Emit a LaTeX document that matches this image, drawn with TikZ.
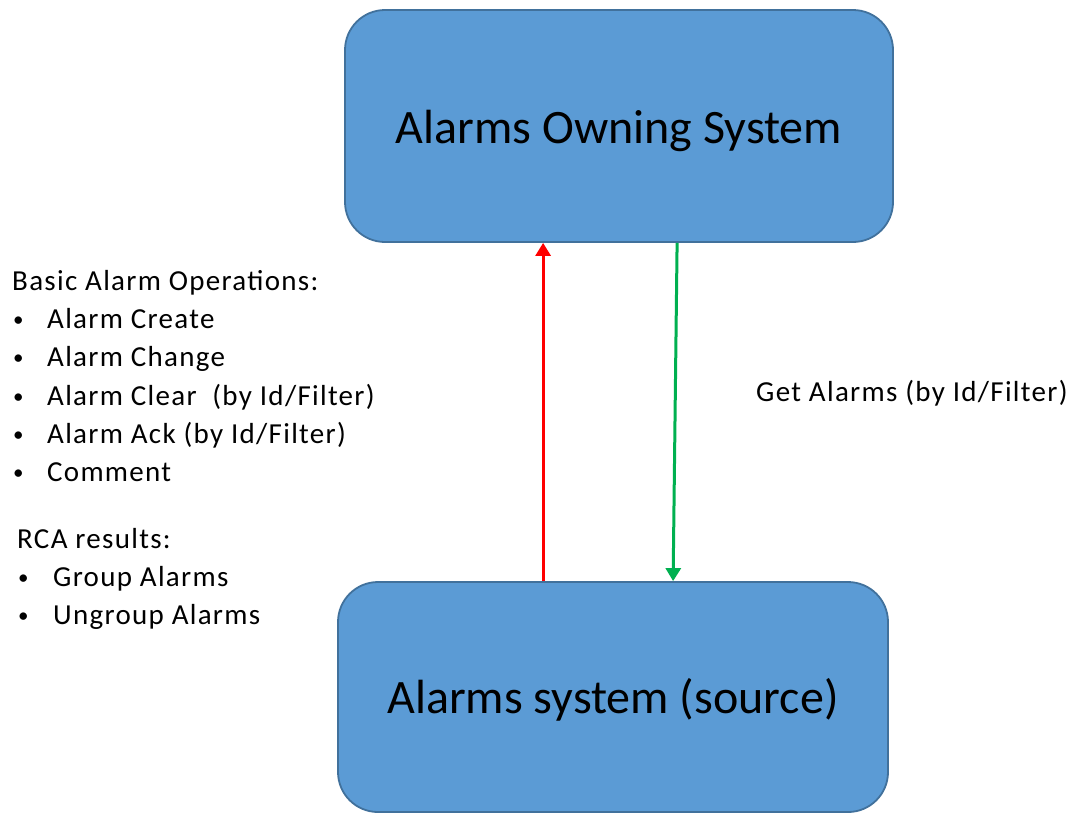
\documentclass[tikz,border=0pt]{standalone}
\usepackage{fontspec}
\setmainfont{Carlito}
\newfontfamily\lblfont[LetterSpace=4.5]{Carlito}
\usetikzlibrary{arrows.meta,calc}
\definecolor{boxfill}{HTML}{5B9BD5}
\definecolor{boxline}{HTML}{41719C}
\definecolor{arrred}{HTML}{FF0000}
\definecolor{arrgreen}{HTML}{00B050}
\newcommand{\smbul}{{\fontsize{21}{25}\selectfont\raisebox{2pt}{•}}}
\newcommand{\lowered}[2]{\raisebox{-#1}[\height][\depth]{#2}}
\begin{document}
\begin{tikzpicture}[x=1pt,y=-1pt,
  sysbox/.style={draw=boxline,fill=boxfill,line width=1.8pt,rounded corners=40pt,
    inner sep=0pt,font=\fontsize{48}{56}\selectfont},
  lbl/.style={anchor=base west,inner sep=0pt,font=\lblfont\fontsize{29}{34}\selectfont},
  conn/.style={line width=3pt,-{Triangle[length=13pt,width=15pt]}}]
\useasboundingbox (0,0) rectangle (1078,812);
\node[sysbox,minimum width=548pt,minimum height=232pt] (top) at (619,126) {\lowered{5pt}{Alarms Owning System}};
\node[sysbox,minimum width=550pt,minimum height=230pt] (bot) at (613,697) {\lowered{3pt}{Alarms system (source)}};
% left labels
\node[lbl] (h1) at (12,290) {Basic Alarm Operations:};
\node[lbl] (b1) at (13,328) {\smbul};
\node[lbl] (t1) at (47,328) {Alarm Create};
\node[lbl] (b2) at (13,366) {\smbul};
\node[lbl] (t2) at (47,366) {Alarm Change};
\node[lbl] (b3) at (13,405) {\smbul};
\node[lbl] (t3) at (47,405) {Alarm Clear\ \ (by Id/Filter)};
\node[lbl] (b4) at (13,443) {\smbul};
\node[lbl] (t4) at (47,443) {Alarm Ack (by Id/Filter)};
\node[lbl] (b5) at (13,481) {\smbul};
\node[lbl] (t5) at (47,481) {Comment};
\node[lbl] (h2) at (17,548) {RCA results:};
\node[lbl] (b6) at (18,586) {\smbul};
\node[lbl] (t6) at (53,586) {Group Alarms};
\node[lbl] (b7) at (18,624) {\smbul};
\node[lbl] (t7) at (53,624) {Ungroup Alarms};
\node[lbl] (get) at (756,401) {Get Alarms (by Id/Filter)};
% connectors
\coordinate (rs) at ($(bot.north west)+(206,0)$);
\coordinate (re) at ($(top.south west)+(199,0)$);
\coordinate (gs) at ($(top.south west)+(333,0)$);
\coordinate (ge) at ($(bot.north west)+(336,0)$);
\draw[conn,arrred] (rs) -- (re);
\draw[conn,arrgreen] (gs) -- (ge);
\end{tikzpicture}
\end{document}
